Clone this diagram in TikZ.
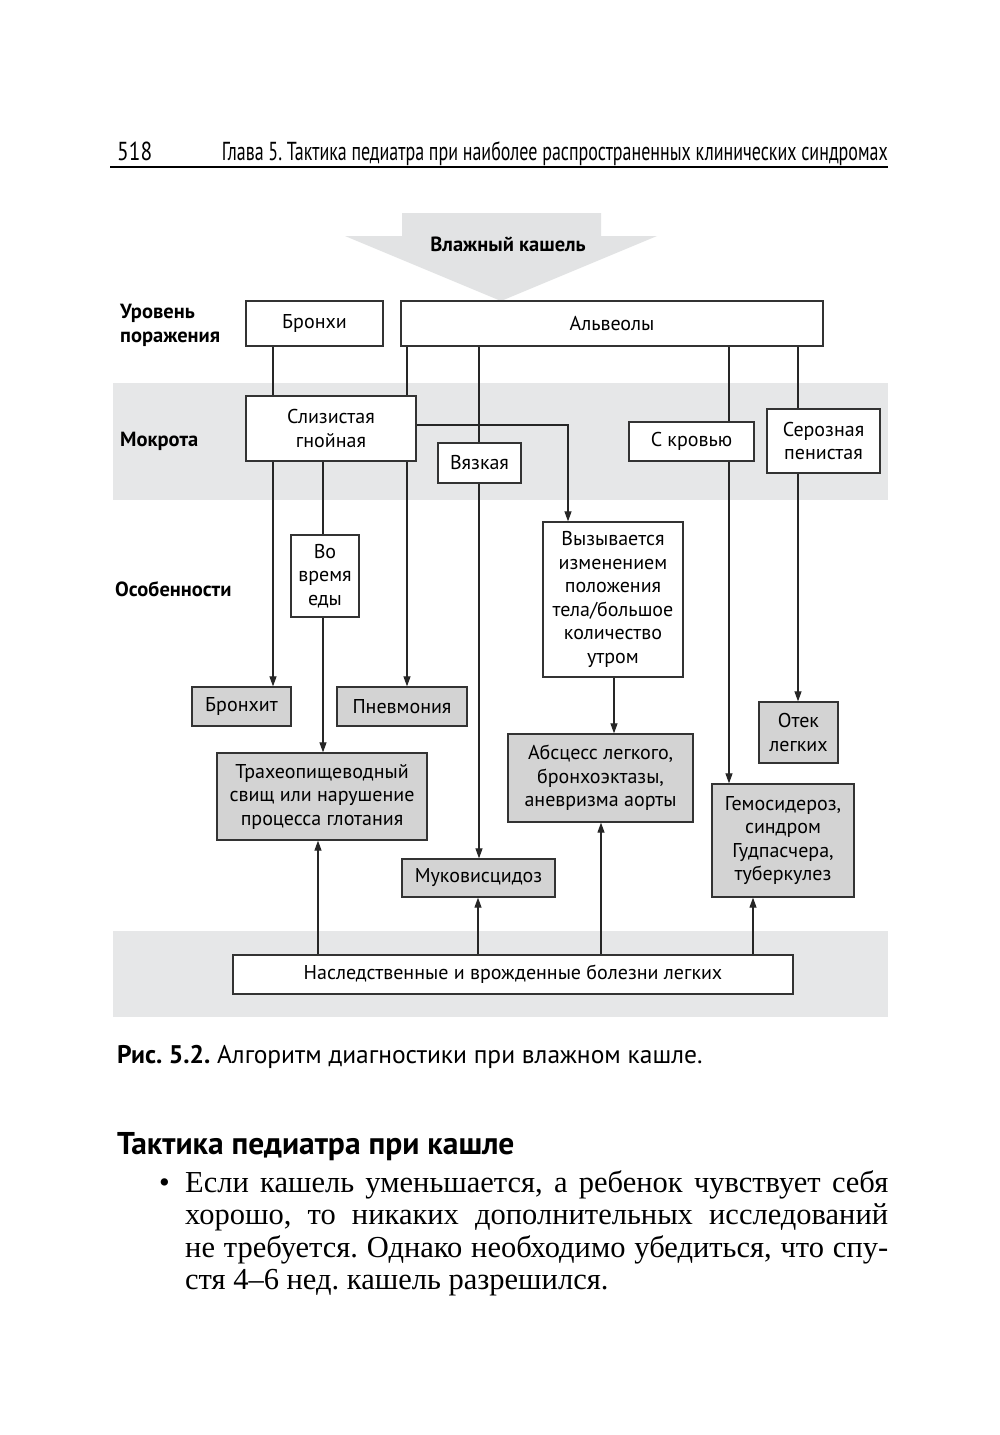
\documentclass[tikz,border=0pt]{standalone}
\usepackage{fontspec}
\setmainfont{PT Sans}
\newfontfamily\serifru{Liberation Serif}
\usetikzlibrary{arrows.meta}
\frenchspacing
\newcommand\dgfont{\fontsize{20}{23.5}\selectfont}
\newcommand\lblfont{\fontsize{20.5}{24}\selectfont\bfseries}
\newcommand\hdrsize{\fontsize{26}{30}\selectfont}
\newcommand\captsize{\fontsize{25.5}{30}\selectfont}
\newcommand\headsize{\fontsize{31.5}{36}\selectfont\bfseries}
\newcommand\bodysize{\fontsize{30.5}{34}\selectfont\serifru}
\definecolor{bandgray}{RGB}{230,231,232}
\definecolor{arrgray}{RGB}{226,227,228}
\definecolor{boxgray}{RGB}{211,211,211}
\begin{document}
\begin{tikzpicture}[x=1pt,y=-1pt,
  box/.style={draw=black!80,line width=1.3pt,fill=white,inner sep=0pt,align=center,font=\dgfont},
  dbox/.style={box,fill=boxgray},
  conn/.style={draw=black!85,line width=1.1pt},
  arr/.style={conn,-{Triangle[length=10pt,width=7pt]}},
  lbl/.style={anchor=west,inner sep=0pt,align=left,font=\lblfont},
  txt/.style={inner sep=0pt}]
\useasboundingbox (0,0) rectangle (1000,1435);
\fill[white] (0,0) rectangle (1000,1435);
% header
\node[txt,anchor=base west] (pnum) at (117,160) {\resizebox{35pt}{\height}{\hdrsize 518}};
\node[txt,anchor=base east] (htitle) at (888,160) {\resizebox{666pt}{\height}{\hdrsize Глава 5. Тактика педиатра при наиболее распространенных клинических синдромах}};
\draw[line width=1.2pt] (110,167) -- (888,167);
% bands
\fill[bandgray] (113,383) rectangle (888,500);
\fill[bandgray] (113,931) rectangle (888,1017);
% big arrow
\fill[arrgray] (402,213) -- (601,213) -- (601,236) -- (657,236) -- (501,301) -- (345,236) -- (402,236) -- cycle;
\node[txt,font=\lblfont] (wet) at (508,244) {Влажный кашель};
% row labels
\node[lbl] (lvl) at (120,325) {Уровень\\поражения};
\node[lbl] (mok) at (120,441) {Мокрота};
\node[lbl] (osob) at (115,589) {Особенности};
% boxes
\node[box,minimum width=137pt,minimum height=45pt] (bronchi) at (314.5,323.5) {Бронхи};
\node[box,minimum width=422pt,minimum height=45pt] (alv) at (612,323.5) {Альвеолы};
\node[box,minimum width=170pt,minimum height=65pt] (sliz) at (331,428.5) {Слизистая\\гнойная};
\node[box,minimum width=83pt,minimum height=40pt] (vyaz) at (479.5,463) {Вязкая};
\node[box,minimum width=125pt,minimum height=39pt] (skrov) at (691.5,441.5) {С кровью};
\node[box,minimum width=113pt,minimum height=64pt] (seroz) at (823.5,441) {Серозная\\пенистая};
\node[box,minimum width=68pt,minimum height=82pt] (voedy) at (325,576) {Во\\время\\еды};
\node[box,minimum width=140pt,minimum height=155pt] (vyzyv) at (613,599.5) {Вызывается\\изменением\\положения\\тела/большое\\количество\\утром};
\node[dbox,minimum width=99pt,minimum height=39pt] (bronchit) at (241.5,706.5) {Бронхит};
\node[dbox,minimum width=130pt,minimum height=39pt] (pnevm) at (402,706.5) {Пневмония};
\node[dbox,minimum width=79pt,minimum height=61pt] (otek) at (798.5,732.5) {Отек\\легких};
\node[dbox,minimum width=210pt,minimum height=87pt] (trach) at (322,796.5) {Трахеопищеводный\\свищ или нарушение\\процесса глотания};
\node[dbox,minimum width=185pt,minimum height=88pt] (absc) at (600.5,778) {Абсцесс легкого,\\бронхоэктазы,\\аневризма аорты};
\node[dbox,minimum width=142pt,minimum height=113pt] (gemo) at (783,840.5) {Гемосидероз,\\синдром\\Гудпасчера,\\туберкулез};
\node[dbox,minimum width=153pt,minimum height=38pt] (muko) at (478.5,878) {Муковисцидоз};
\node[box,minimum width=560pt,minimum height=39pt] (nasl) at (513,974.5) {Наследственные и врожденные болезни легких};
% column coordinates
\coordinate (x273) at (273,0);
\coordinate (x323) at (323,0);
\coordinate (x407) at (407,0);
\coordinate (x479) at (479,0);
\coordinate (k568) at (568,425);
\coordinate (x614) at (614,0);
\coordinate (x729) at (729,0);
\coordinate (x798) at (798,0);
\coordinate (x318) at (318,0);
\coordinate (x478) at (478,0);
\coordinate (x601) at (601,0);
\coordinate (x753) at (753,0);
% connectors
\draw[conn] (bronchi.south -| x273) -- (sliz.north -| x273);
\draw[arr] (sliz.south -| x273) -- (bronchit.north -| x273);
\draw[conn] (sliz.south -| x323) -- (voedy.north -| x323);
\draw[arr] (voedy.south -| x323) -- (trach.north -| x323);
\draw[conn] (alv.south -| x407) -- (sliz.north -| x407);
\draw[arr] (sliz.south -| x407) -- (pnevm.north -| x407);
\draw[conn] (alv.south -| x479) -- (vyaz.north -| x479);
\draw[arr] (vyaz.south -| x479) -- (muko.north -| x479);
\draw[arr] (sliz.east |- k568) -- (k568) -- (vyzyv.north -| k568);
\draw[arr] (vyzyv.south -| x614) -- (absc.north -| x614);
\draw[conn] (alv.south -| x729) -- (skrov.north -| x729);
\draw[arr] (skrov.south -| x729) -- (gemo.north -| x729);
\draw[conn] (alv.south -| x798) -- (seroz.north -| x798);
\draw[arr] (seroz.south -| x798) -- (otek.north -| x798);
\draw[arr] (nasl.north -| x318) -- (trach.south -| x318);
\draw[arr] (nasl.north -| x478) -- (muko.south -| x478);
\draw[arr] (nasl.north -| x601) -- (absc.south -| x601);
\draw[arr] (nasl.north -| x753) -- (gemo.south -| x753);
% caption
\node[txt,anchor=base west] (capt) at (117,1063) {\captsize\textbf{Рис. 5.2.} Алгоритм диагностики при влажном кашле.};
% heading
\node[txt,anchor=base west] (head) at (117,1154) {\headsize Тактика педиатра при кашле};
% body
\node[txt,anchor=base west] (bul) at (159,1192) {\bodysize •};
\node[txt,anchor=base west] (l1) at (185,1192) {\bodysize\makebox[703pt][s]{Если кашель уменьшается, а ребенок чувствует себя}};
\node[txt,anchor=base west] (l2) at (185,1224.5) {\bodysize\makebox[703pt][s]{хорошо, то никаких дополнительных исследований}};
\node[txt,anchor=base west] (l3) at (185,1257) {\bodysize\makebox[703pt][s]{не требуется. Однако необходимо убедиться, что спу-}};
\node[txt,anchor=base west] (l4) at (185,1289.5) {\bodysize стя 4–6 нед. кашель разрешился.};
\end{tikzpicture}
\end{document}
